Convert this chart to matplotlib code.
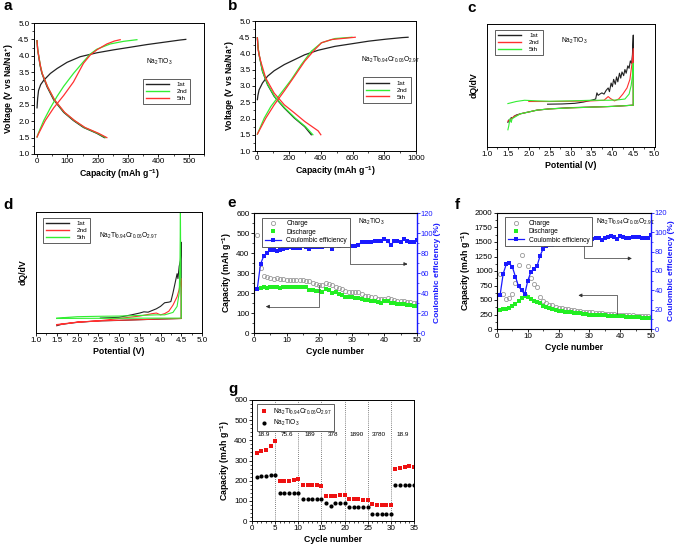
import matplotlib
matplotlib.use("Agg")
from matplotlib import pyplot as plt
from matplotlib.lines import Line2D
from matplotlib.ticker import MultipleLocator, NullLocator

plt.rcParams['font.family'] = ['Liberation Sans', 'DejaVu Sans']
plt.rcParams['mathtext.default'] = 'regular'

BLK = '#222222'
GRN = '#33ee33'
RED = '#ff3030'
BLUE = '#1a1aff'
GRAY = '#999999'

NTO = r'Na$_2$TiO$_3$'
NTCO = r'Na$_2$Ti$_{0.94}$Cr$_{0.06}$O$_{2.97}$'

# ---- panel a : Na2TiO3 charge/discharge (capacity mAh/g, voltage V)
a_chg1_cap = [0, 2, 5, 12, 22, 44, 66, 99, 142, 197, 252, 307, 361, 416, 471, 490]
a_chg1_v = [2.41, 2.7, 2.94, 3.12, 3.25, 3.46, 3.61, 3.80, 3.97, 4.09, 4.18, 4.26, 4.34, 4.41, 4.48, 4.5]
a_chg2_cap = [0, 5, 22, 44, 66, 88, 120, 153, 175, 197, 241, 285, 329]
a_chg2_v = [1.52, 1.65, 2.02, 2.41, 2.76, 3.07, 3.46, 3.82, 4.05, 4.2, 4.36, 4.44, 4.49]
a_chg5_cap = [0, 5, 27, 55, 88, 120, 153, 175, 197, 230, 255, 274]
a_chg5_v = [1.52, 1.62, 2.02, 2.41, 2.79, 3.2, 3.77, 4.02, 4.18, 4.36, 4.45, 4.49]
a_dis1_cap = [0, 2, 5.5, 10, 16, 33, 55, 88, 120, 153, 197, 222]
a_dis1_v = [4.46, 4.2, 3.97, 3.7, 3.46, 3.05, 2.65, 2.27, 2.02, 1.81, 1.63, 1.5]
a_dis2_cap = [0, 2, 6, 11, 17, 35, 57, 90, 123, 156, 200, 226]
a_dis2_v = [4.46, 4.2, 3.97, 3.7, 3.46, 3.05, 2.65, 2.27, 2.02, 1.81, 1.63, 1.5]
a_dis5_cap = [0, 2, 6, 11, 17, 35, 58, 91, 124, 158, 203, 230]
a_dis5_v = [4.46, 4.2, 3.97, 3.7, 3.46, 3.05, 2.65, 2.27, 2.02, 1.81, 1.63, 1.5]

# ---- panel b : Cr-doped
b_chg1_cap = [0, 3, 10.6, 32, 64, 106, 170, 234, 298, 383, 489, 596, 702, 809, 915, 950]
b_chg1_v = [2.58, 2.7, 2.88, 3.09, 3.30, 3.47, 3.66, 3.81, 3.96, 4.10, 4.22, 4.30, 4.38, 4.44, 4.49, 4.5]
b_chg2_cap = [0, 43, 85, 149, 213, 277, 340, 404, 489, 596]
b_chg2_v = [1.52, 2.01, 2.37, 2.78, 3.19, 3.66, 4.07, 4.33, 4.46, 4.5]
b_chg5_cap = [0, 53, 106, 170, 234, 298, 362, 404, 468, 574, 617]
b_chg5_v = [1.52, 2.01, 2.42, 2.85, 3.3, 3.76, 4.12, 4.33, 4.43, 4.48, 4.5]
b_dis1_cap = [0, 4, 10.6, 32, 64, 106, 170, 234, 298, 340]
b_dis1_v = [4.48, 4.2, 3.96, 3.45, 3.04, 2.68, 2.32, 2.01, 1.75, 1.5]
b_dis2_cap = [0, 4, 11, 33, 66, 109, 174, 239, 303, 350]
b_dis2_v = [4.48, 4.2, 3.96, 3.45, 3.04, 2.68, 2.32, 2.01, 1.75, 1.5]
b_dis5_cap = [0, 5, 21, 53, 106, 170, 234, 298, 383, 400]
b_dis5_v = [4.48, 4.1, 3.76, 3.24, 2.78, 2.42, 2.17, 1.91, 1.62, 1.5]

# ---- panel c : dQ/dV Na2TiO3 (arbitrary units)
c_1_v = [2.45, 2.8, 3.1, 3.3, 3.5, 3.6, 3.63, 3.66, 3.7, 3.75, 3.8, 3.85, 3.9, 3.93, 3.97, 4.0, 4.03,
         4.07, 4.1, 4.13, 4.17, 4.2, 4.23, 4.27, 4.3, 4.33, 4.37, 4.4, 4.43, 4.46, 4.48, 4.5,
         4.5, 4.0, 3.5, 3.0, 2.5, 2.2, 2.0, 1.8, 1.7, 1.65, 1.6, 1.58, 1.55, 1.52, 1.5]
c_1_q = [0.348, 0.35, 0.355, 0.365, 0.38, 0.39, 0.44, 0.42, 0.43, 0.44, 0.43, 0.46, 0.48, 0.45, 0.52,
         0.49, 0.55, 0.51, 0.57, 0.53, 0.6, 0.56, 0.61, 0.58, 0.63, 0.6, 0.66, 0.64, 0.7, 0.68, 0.75, 0.91,
         0.34, 0.33, 0.325, 0.32, 0.31, 0.3, 0.285, 0.27, 0.26, 0.25, 0.23, 0.24, 0.21, 0.22, 0.2]
c_2_v = [2.0, 2.5, 3.0, 3.5, 3.8, 3.9, 3.95, 4.05, 4.15, 4.25, 4.35, 4.42, 4.47, 4.5,
         4.5, 4.0, 3.5, 3.0, 2.5, 2.2, 2.0, 1.8, 1.7, 1.65, 1.6, 1.55, 1.5]
c_2_q = [0.37, 0.37, 0.372, 0.375, 0.38, 0.41, 0.395, 0.375, 0.39, 0.43, 0.48, 0.55, 0.68, 0.80,
         0.34, 0.33, 0.324, 0.318, 0.31, 0.3, 0.285, 0.27, 0.255, 0.25, 0.235, 0.22, 0.21]
c_5_v = [1.5, 1.7, 1.9, 2.2, 2.5, 3.0, 3.5, 3.9, 4.1, 4.3, 4.4, 4.45, 4.48, 4.5,
         4.5, 4.0, 3.5, 3.0, 2.5, 2.2, 2.0, 1.8, 1.7, 1.65, 1.6, 1.58, 1.55, 1.52, 1.5]
c_5_q = [0.353, 0.37, 0.38, 0.375, 0.372, 0.375, 0.38, 0.38, 0.382, 0.39, 0.43, 0.5, 0.58, 0.68,
         0.34, 0.33, 0.324, 0.318, 0.31, 0.3, 0.285, 0.27, 0.25, 0.24, 0.23, 0.2, 0.23, 0.17, 0.14]

# ---- panel d : dQ/dV Cr-doped
d_1_v = [2.55, 3.0, 3.3, 3.5, 3.6, 3.7, 3.8, 3.9, 4.0, 4.1, 4.2, 4.25, 4.3, 4.35, 4.4, 4.42, 4.45, 4.48, 4.5,
         4.5, 4.0, 3.5, 3.0, 2.5, 2.0, 1.8, 1.6, 1.5]
d_1_q = [0.123, 0.13, 0.15, 0.165, 0.175, 0.172, 0.186, 0.2, 0.22, 0.25, 0.255, 0.26, 0.33, 0.41, 0.49,
         0.45, 0.55, 0.6, 0.75, 0.12, 0.115, 0.11, 0.104, 0.1, 0.088, 0.08, 0.07, 0.06]
d_2_v = [1.5, 2.0, 2.5, 3.0, 3.5, 3.8, 3.9, 4.0, 4.1, 4.2, 4.3, 4.4, 4.45, 4.5,
         4.5, 4.0, 3.5, 3.0, 2.5, 2.0, 1.8, 1.6, 1.5]
d_2_q = [0.07, 0.09, 0.1, 0.12, 0.14, 0.16, 0.165, 0.15, 0.16, 0.18, 0.23, 0.3, 0.36, 0.45,
         0.12, 0.116, 0.11, 0.105, 0.1, 0.09, 0.08, 0.072, 0.065]
d_5_v = [1.5, 2.0, 2.5, 3.0, 3.5, 3.9, 4.1, 4.3, 4.4, 4.45, 4.47, 4.48, 4.49, 4.5,
         4.5, 4.0, 3.0, 2.0, 1.5]
d_5_q = [0.123, 0.135, 0.138, 0.14, 0.145, 0.15, 0.15, 0.17, 0.22, 0.33, 0.6, 1.0, 0.4, 0.3,
         0.123, 0.123, 0.122, 0.121, 0.12]

# ---- panel e : cycling Na2TiO3
e_cycle = list(range(1, 51))
e_charge = [492, 325, 285, 282, 275, 270, 275, 270, 268, 265, 265, 267, 265, 267, 265, 262, 258, 252, 245, 240,
            238, 250, 245, 240, 230, 225, 220, 210, 205, 205, 205, 203, 195, 185, 183, 180, 178, 172, 170, 172,
            175, 168, 165, 162, 160, 158, 157, 155, 150, 148]
e_discharge = [220, 225, 228, 227, 230, 228, 228, 227, 228, 228, 230, 228, 228, 228, 230, 230, 215, 213, 210, 208,
               205, 220, 215, 200, 203, 195, 190, 182, 180, 178, 175, 175, 168, 165, 163, 160, 158, 155, 152, 160,
               158, 148, 148, 145, 145, 143, 142, 140, 137, 135]
e_ce = [44, 69, 77, 80, 83, 83, 82, 83, 84, 85, 86, 85, 85, 85, 87, 86, 84, 86, 86, 86,
        86, 87, 87, 84, 90, 87, 88, 88, 88, 87, 87, 88, 91, 91, 91, 91, 92, 92, 92, 94,
        92, 88, 92, 92, 91, 94, 92, 91, 91, 93]

# ---- panel f : cycling Cr-doped
f_cycle = list(range(1, 51))
f_charge = [950, 600, 520, 540, 610, 800, 1100, 1275, 580, 1090, 880, 770, 730, 545, 480, 450, 420, 410, 380, 360,
            355, 350, 340, 330, 320, 310, 305, 300, 295, 290, 285, 280, 275, 270, 265, 262, 258, 255, 250, 245,
            242, 240, 237, 235, 232, 228, 225, 222, 218, 215]
f_discharge = [330, 340, 350, 360, 390, 430, 480, 530, 575, 560, 520, 490, 470, 440, 400, 380, 360, 345, 330, 310,
               315, 300, 295, 285, 280, 275, 270, 265, 255, 250, 248, 245, 242, 238, 235, 232, 230, 226, 223, 220,
               218, 215, 212, 208, 205, 200, 197, 193, 190, 185]
f_ce = [35, 57, 67, 68, 64, 54, 44, 40, 36, 50, 59, 62, 65, 76, 83, 86, 87, 87, 89, 90,
        91, 91, 90, 91, 93, 92, 92, 93, 93, 93, 93, 94, 94, 92, 94, 95, 96, 95, 93, 96,
        95, 94, 94, 95, 95, 95, 94, 94, 94, 97]

# ---- panel g : rate capability
g_cycle = list(range(1, 36))
g_doped = [337, 348, 353, 370, 395, 199, 200, 200, 202, 207, 179, 179, 178, 178, 176, 124, 124, 124, 127, 129,
           110, 108, 108, 106, 103, 83, 80, 80, 80, 80, 257, 263, 268, 273, 267]
g_pure = [219, 225, 225, 226, 229, 141, 141, 141, 141, 141, 109, 109, 109, 109, 109, 91, 75, 91, 91, 91,
          71, 71, 71, 71, 71, 35, 35, 35, 35, 35, 177, 177, 177, 177, 177]
g_rates = ['18.9', '75.6', '189', '378', '1890', '3780', '18.9']
g_bounds = [5, 10, 15, 20, 25, 30]

W, H = 675, 544
fig = plt.figure(figsize=(W / 100, H / 100), dpi=100)

TICK = 5.8
AXL = 6.3


def box(x0, y0, x1, y1):
    # pixel box (top-left origin) -> figure fraction
    return [x0 / W, 1 - y1 / H, (x1 - x0) / W, (y1 - y0) / H]


def style(ax, xmaj, xmin, ymaj=None, ymin=None):
    ax.tick_params(which='both', direction='out', labelsize=TICK, right=False, top=False, pad=1)
    ax.tick_params(which='major', length=2.2, width=0.6)
    ax.tick_params(which='minor', length=1.3, width=0.5)
    ax.xaxis.set_major_locator(MultipleLocator(xmaj))
    ax.xaxis.set_minor_locator(MultipleLocator(xmin))
    if ymaj is not None:
        ax.yaxis.set_major_locator(MultipleLocator(ymaj))
        ax.yaxis.set_minor_locator(MultipleLocator(ymin))
    for s in ax.spines.values():
        s.set_linewidth(0.7)


def leg_lines(ax, labels, colors, anchor):
    hs = [Line2D([], [], color=c, lw=1.0) for c in colors]
    lg = ax.legend(hs, labels, loc='upper left', bbox_to_anchor=anchor, fontsize=4.6, handlelength=3.6,
                   handletextpad=1.2, borderpad=0.5, labelspacing=0.2, fancybox=False,
                   edgecolor='#444444', framealpha=1)
    lg.get_frame().set_linewidth(0.6)
    return lg


def lab(ax, xl, yl):
    ax.set_xlabel(xl, fontsize=AXL, fontweight='bold', labelpad=1.5)
    ax.set_ylabel(yl, fontsize=AXL, fontweight='bold', labelpad=1.5)


# ---------------- a
ax = fig.add_axes(box(34, 23, 204, 154))
ax.plot(a_chg1_cap, a_chg1_v, color=BLK, lw=0.9)
ax.plot(a_dis1_cap, a_dis1_v, color=BLK, lw=0.9)
ax.plot(a_chg2_cap, a_chg2_v, color=GRN, lw=0.9)
ax.plot(a_dis2_cap, a_dis2_v, color=GRN, lw=0.9)
ax.plot(a_chg5_cap, a_chg5_v, color=RED, lw=0.9)
ax.plot(a_dis5_cap, a_dis5_v, color=RED, lw=0.9)
ax.set_xlim(-10, 550)
ax.set_ylim(1.0, 5.0)
style(ax, 100, 50, 0.5, 0.25)
lab(ax, r'Capacity (mAh g$^{-1}$)', r'Voltage (V vs Na/Na$^{+}$)')
ax.text(0.66, 0.69, NTO, transform=ax.transAxes, fontsize=4.8)
leg_lines(ax, ['1st', '2nd', '5th'], [BLK, GRN, RED], (0.62, 0.6))

# ---------------- b
ax = fig.add_axes(box(255, 21, 416, 151))
ax.plot(b_chg1_cap, b_chg1_v, color=BLK, lw=0.9)
ax.plot(b_dis1_cap, b_dis1_v, color=BLK, lw=0.9)
ax.plot(b_chg2_cap, b_chg2_v, color=GRN, lw=0.9)
ax.plot(b_dis2_cap, b_dis2_v, color=GRN, lw=0.9)
ax.plot(b_chg5_cap, b_chg5_v, color=RED, lw=0.9)
ax.plot(b_dis5_cap, b_dis5_v, color=RED, lw=0.9)
ax.set_xlim(-15, 1000)
ax.set_ylim(1.0, 5.0)
style(ax, 200, 100, 0.5, 0.25)
lab(ax, r'Capacity (mAh g$^{-1}$)', r'Voltage (V vs Na/Na$^{+}$)')
ax.text(0.66, 0.69, NTCO, transform=ax.transAxes, fontsize=4.8)
leg_lines(ax, ['1st', '2nd', '5th'], [BLK, GRN, RED], (0.65, 0.59))

# ---------------- c
ax = fig.add_axes(box(487, 24, 655, 147))
ax.plot(c_1_v, c_1_q, color=BLK, lw=0.8)
ax.plot(c_2_v, c_2_q, color=RED, lw=0.8)
ax.plot(c_5_v, c_5_q, color=GRN, lw=0.8)
ax.set_xlim(1.0, 5.02)
ax.set_ylim(0, 1)
style(ax, 0.5, 0.25)
ax.yaxis.set_major_locator(NullLocator())
lab(ax, 'Potential (V)', 'dQ/dV')
ax.yaxis.labelpad = 6
ax.text(0.44, 0.85, NTO, transform=ax.transAxes, fontsize=4.8)
leg_lines(ax, ['1st', '2nd', '5th'], [BLK, RED, GRN], (0.03, 0.98))

# ---------------- d
ax = fig.add_axes(box(36, 212, 202, 333))
ax.plot(d_1_v, d_1_q, color=BLK, lw=0.8)
ax.plot(d_2_v, d_2_q, color=RED, lw=0.8)
ax.plot(d_5_v, d_5_q, color=GRN, lw=0.8)
ax.set_xlim(1.0, 5.0)
ax.set_ylim(0, 1)
style(ax, 0.5, 0.25)
ax.yaxis.set_major_locator(NullLocator())
lab(ax, 'Potential (V)', 'dQ/dV')
ax.yaxis.labelpad = 6
ax.text(0.38, 0.79, NTCO, transform=ax.transAxes, fontsize=4.8)
leg_lines(ax, ['1st', '2nd', '5th'], [BLK, RED, GRN], (0.02, 0.98))


def cycling(rect, cyc, chg, dis, ce, ymax, ymaj, ymin, title, arr_r, arr_l):
    ax = fig.add_axes(rect)
    ax.plot(cyc, chg, 'o', mfc='none', mec=GRAY, ms=3, mew=0.6)
    ax.plot(cyc, dis, 's', color='#22ee22', ms=2.6, mew=0)
    ax.set_xlim(0, 50)
    ax.set_ylim(0, ymax)
    style(ax, 10, 5, ymaj, ymin)
    lab(ax, 'Cycle number', r'Capacity (mAh g$^{-1}$)')
    ax2 = ax.twinx()
    ax2.plot(cyc, ce, '-s', color=BLUE, ms=2.6, lw=0.9, mew=0)
    ax2.set_ylim(0, 120)
    ax2.yaxis.set_major_locator(MultipleLocator(20))
    ax2.yaxis.set_minor_locator(MultipleLocator(10))
    ax2.tick_params(which='both', direction='out', labelsize=5.4, colors=BLUE, pad=0.6)
    ax2.tick_params(which='major', length=2.0, width=0.6)
    ax2.tick_params(which='minor', length=1.2, width=0.5)
    ax2.spines['right'].set_color(BLUE)
    ax2.spines['right'].set_linewidth(1.0)
    ax2.set_ylabel('Coulombic efficiency (%)', fontsize=6.0, fontweight='bold', color=BLUE, labelpad=0.8)
    # guide arrows (right axis then left axis)
    xv, y0, y1, xe = arr_r
    ax2.plot([xv, xv, xe], [y0, y1, y1], color='#555555', lw=0.6)
    ax2.annotate('', xy=(xe + 0.6, y1), xytext=(xe - 1, y1),
                 arrowprops=dict(arrowstyle='-|>', color='#333333', lw=0.6, mutation_scale=5))
    xv, y0, y1, xe = arr_l
    ax.plot([xv, xv, xe], [y0, y1, y1], color='#555555', lw=0.6)
    ax.annotate('', xy=(xe - 0.6, y1), xytext=(xe + 1, y1),
                arrowprops=dict(arrowstyle='-|>', color='#333333', lw=0.6, mutation_scale=5))
    ax2.text(0.64, 0.91, title, transform=ax2.transAxes, fontsize=4.8)
    hs = [Line2D([], [], ls='none', marker='o', mfc='none', mec=GRAY, ms=3, mew=0.6),
          Line2D([], [], ls='none', marker='s', color='#22ee22', ms=2.6, mew=0),
          Line2D([], [], ls='-', marker='s', color=BLUE, ms=2.6, lw=0.9, mew=0)]
    lg = ax2.legend(hs, ['Charge', 'Discharge', 'Coulombic efficiency'], loc='upper left',
                    bbox_to_anchor=(0.03, 0.99), fontsize=4.8, handlelength=2.4, borderpad=0.4,
                    labelspacing=0.2, fancybox=False, edgecolor='#444444', framealpha=1)
    lg.get_frame().set_linewidth(0.6)
    return ax


# ---------------- e
cycling(box(254, 213, 417, 333), e_cycle, e_charge, e_discharge, e_ce, 600, 100, 50, NTO,
        (29.4, 88, 69, 46.5), (19.9, 240, 132, 4.2))

# ---------------- f
cycling(box(497, 213, 651, 329), f_cycle, f_charge, f_discharge, f_ce, 2000, 250, 125, NTCO,
        (28.3, 90, 73, 43.2), (38.8, 260, 580, 27.0))

# ---------------- g
ax = fig.add_axes(box(252, 400, 414, 521))
for xb in g_bounds:
    ax.axvline(xb, color='#555555', lw=0.6, ls=(0, (1, 1.5)))
ax.plot(g_cycle, g_doped, 's', color='#ee1111', ms=3.0, mew=0, label=NTCO)
ax.plot(g_cycle, g_pure, 'o', color='black', ms=3.0, mew=0, label=NTO)
starts = [0] + g_bounds
for i, r in enumerate(g_rates):
    ax.text(starts[i] + 2.5, 431, r, fontsize=4.6, ha='center', va='center')
ax.set_xlim(0, 35)
ax.set_ylim(0, 600)
style(ax, 5, 1, 100, 20)
lab(ax, 'Cycle number', r'Capacity (mAh g$^{-1}$)')
lg = ax.legend(loc='upper left', bbox_to_anchor=(0.01, 0.995), fontsize=4.8, handlelength=1.2,
               borderpad=0.4, labelspacing=0.2, fancybox=False, edgecolor='#444444', framealpha=1)
lg.get_frame().set_linewidth(0.6)

# panel letters
for t, x, y in [('a', 3, 6), ('b', 228, 6), ('c', 467, 8), ('d', 3, 205), ('e', 227, 203),
                ('f', 455, 205), ('g', 228, 389)]:
    fig.text(x / W, 1 - y / H, t, fontsize=11, fontweight='bold', ha='left', va='center')

fig.savefig('out.png', dpi=100)
